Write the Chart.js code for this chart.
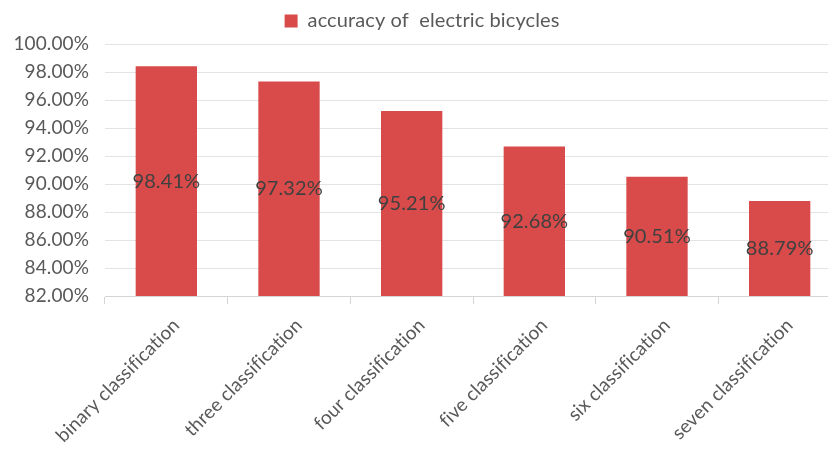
<!DOCTYPE html>
<html>
<head>
<meta charset="utf-8">
<script src="https://cdn.jsdelivr.net/npm/chart.js@4.4.1/dist/chart.umd.min.js"></script>
<style>
    html, body { margin: 0; padding: 0; background: #fff; overflow: hidden; }
    #wrap { width: 841px; height: 476px; position: relative; }
</style>
</head>
<body>
<div id="wrap"><canvas id="accuracyChart"></canvas></div>
<script>
const categories = ['binary classification', 'three classification', 'four classification',
    'five classification', 'six classification', 'seven classification'];
const accuracy = [98.41, 97.32, 95.21, 92.68, 90.51, 88.79];
const yTicks = [82, 84, 86, 88, 90, 92, 94, 96, 98, 100];

const FONT = "Lato, 'Open Sans', sans-serif";
const textGray = '#595959';
const barRed = '#D84B4A';

// value text drawn in the vertical middle of each bar
const barValueLabels = {
    id: 'barValueLabels',
    beforeDraw(chart) {
        // a tiny letter spacing keeps "fi" from turning into a ligature
        if ('letterSpacing' in chart.ctx) chart.ctx.letterSpacing = '0.1px';
    },
    afterDraw(chart) {
        const ctx = chart.ctx;
        const xScale = chart.scales.x;
        const yScale = chart.scales.y;
        const base = chart.chartArea.bottom;
        ctx.save();
        ctx.font = '20px ' + FONT;
        ctx.fillStyle = '#404040';
        ctx.textAlign = 'center';
        ctx.textBaseline = 'middle';
        accuracy.forEach(function (v, i) {
            const top = yScale.getPixelForValue(v);
            ctx.fillText(v.toFixed(2) + '%', xScale.getPixelForValue(i), (top + base) / 2);
        });
        ctx.restore();
    }
};

// fixed legend band height so the plot starts where it should
const legendHeight = {
    id: 'legendHeight',
    beforeInit(chart) {
        if (!chart.legend) return;
        const fit = chart.legend.fit;
        chart.legend.fit = function () {
            fit.call(this);
            this.height = 44;
        };
    }
};

new Chart(document.getElementById('accuracyChart').getContext('2d'), {
    type: 'bar',
    data: {
        labels: categories,
        datasets: [{
            label: 'accuracy of  electric bicycles',
            data: accuracy,
            backgroundColor: barRed,
            borderWidth: 0,
            categoryPercentage: 1.0,
            barPercentage: 0.5
        }]
    },
    options: {
        responsive: true,
        maintainAspectRatio: false,
        animation: false,
        layout: { padding: 0 },
        plugins: {
            tooltip: { enabled: false },
            legend: {
                position: 'top',
                labels: {
                    font: { family: FONT, size: 20 },
                    color: textGray,
                    boxWidth: 13,
                    boxHeight: 13,
                    padding: 11
                }
            }
        },
        scales: {
            x: {
                grid: {
                    offset: true,
                    drawOnChartArea: false,
                    drawTicks: true,
                    tickLength: 8,
                    color: '#d4d4d4'
                },
                border: { display: true, color: '#d4d4d4' },
                ticks: {
                    font: { family: FONT, size: 19 },
                    color: textGray,
                    minRotation: 45,
                    maxRotation: 45,
                    autoSkip: false,
                    labelOffset: 10,
                    padding: 10
                },
                afterFit(scale) { scale.height = 180; }
            },
            y: {
                min: 82,
                max: 100,
                afterBuildTicks(scale) {
                    scale.ticks = yTicks.map(function (v) { return { value: v }; });
                },
                grid: { color: '#e3e3e3', drawTicks: false },
                border: { display: false },
                ticks: {
                    font: { family: FONT, size: 19 },
                    color: textGray,
                    padding: 16,
                    callback: function (value) {
                        return value.toFixed(2) + '%';
                    }
                },
                afterFit(scale) { scale.width = 105; }
            }
        }
    },
    plugins: [barValueLabels, legendHeight]
});
</script>
</body>
</html>
